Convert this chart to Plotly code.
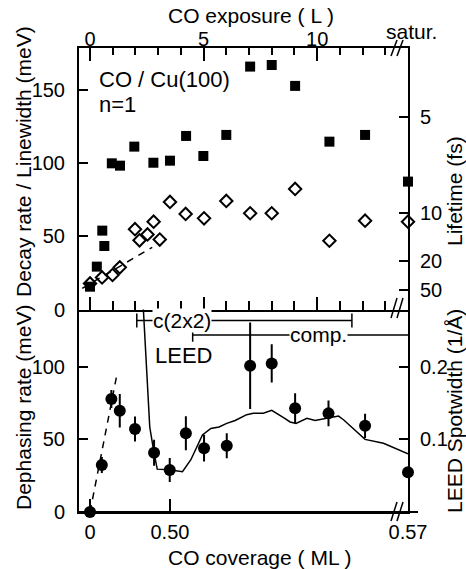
import plotly.graph_objects as go

HBAR_MEV_FS = 658.2  # hbar in meV*fs, converts linewidth to lifetime

# ---- top panel: n=1 image state on CO / Cu(100), versus CO exposure (L) ----
decay_exposure = [0.0, 0.30, 0.54, 0.63, 0.96, 1.32, 1.95, 2.79, 3.52, 4.23,
                  4.99, 6.00, 7.05, 8.00, 9.03, 10.54, 12.11, 14.0]
decay_rate = [15.6, 29.3, 53.9, 43.4, 99.9, 98.3, 111.3, 100.3, 101.7, 118.6,
              104.9, 119.3, 166.0, 167.1, 152.8, 114.7, 119.3, 87.4]

linewidth_exposure = [0.0, 0.53, 0.99, 1.31, 1.98, 2.18, 2.53, 2.80, 3.07, 3.52,
                      4.21, 5.02, 6.00, 7.05, 8.00, 9.03, 10.54, 12.11, 14.0]
linewidth = [17.8, 21.9, 23.6, 28.8, 54.9, 47.3, 51.3, 60.0, 47.8, 73.5,
             65.3, 62.3, 74.2, 65.8, 65.8, 82.4, 47.0, 60.7, 60.0]

linewidth_fit_exposure = [-0.34, 2.74]
linewidth_fit = [14.5, 42.5]

# ---- bottom panel: dephasing rate and LEED spot width ----
dephasing_exposure = [0.0, 0.52, 0.94, 1.31, 1.98, 2.82, 3.51, 4.22, 5.02, 6.02,
                      7.05, 8.00, 9.03, 10.50, 12.11, 14.0]
dephasing_rate = [0.0, 32.3, 77.8, 69.7, 57.1, 40.8, 28.9, 54.2, 43.9, 45.6,
                  100.7, 102.3, 71.4, 67.9, 59.3, 27.3]
dephasing_err = [0.0, 5.5, 6.2, 11.5, 8.6, 8.9, 8.3, 11.7, 9.2, 8.6,
                 29.8, 13.1, 10.3, 8.9, 8.3, 0.0]

dephasing_fit_exposure = [0.0, 1.2]
dephasing_fit = [0.0, 95.9]

leed_exposure = [2.33, 2.45, 2.56, 2.63, 2.82, 2.96, 3.48, 4.07, 4.44, 4.73,
                 4.95, 5.32, 5.68, 6.02, 6.39, 6.90, 7.19, 7.63, 8.00, 8.52,
                 8.81, 9.07, 9.55, 9.91, 10.43, 10.94, 11.16, 12.11, 12.92, 14.0]
leed_spotwidth = [0.290, 0.223, 0.154, 0.117, 0.081, 0.059, 0.058, 0.0555, 0.072, 0.092,
                  0.106, 0.115, 0.117, 0.122, 0.126, 0.134, 0.136, 0.136, 0.140, 0.130,
                  0.124, 0.122, 0.129, 0.126, 0.129, 0.132, 0.127, 0.100, 0.0946, 0.080]

# ---- axis ticks ----
exposure_ticks = [0, 5, 10]
decay_ticks = [0, 50, 100, 150]
lifetime_ticks = [5, 10, 20, 50]
dephasing_ticks = [0, 50, 100]
spotwidth_ticks = [0.1, 0.2]
coverage_tick_exposure = [0.0, 3.52, 14.0]
coverage_tick_labels = ["0", "0.50", "0.57"]

# phase brackets (exposure range, height in meV)
c2x2_range = [2.06, 11.53]
c2x2_level = 131.8
comp_range = [4.52, 14.0]
comp_level = 121.9

X_RANGE = [-0.485, 14.0]
TOP_MAX = 178.7
BOT_MAX = 139.4
MEV_PER_SPOTWIDTH = 500.0
SPLIT = 0.4364

FONT = "Liberation Sans, Arial, Helvetica, sans-serif"
TICK_FONT = dict(family=FONT, size=20, color="black")

fig = go.Figure()

# dashed guide on the base (x, y) pair, diamonds on the lifetime axis pair,
# squares on the top exposure axis pair: every axis carries a trace
fig.add_trace(go.Scatter(
    x=linewidth_fit_exposure, y=linewidth_fit, mode="lines",
    line=dict(color="black", width=1.5, dash="7px,6px"),
    xaxis="x", yaxis="y", hoverinfo="skip"))
fig.add_trace(go.Scatter(
    x=linewidth_exposure, y=linewidth, mode="markers",
    marker=dict(symbol="diamond-open", size=9.5, color="black",
                line=dict(color="black", width=2)),
    xaxis="x", yaxis="y3", cliponaxis=False, name="linewidth"))
fig.add_trace(go.Scatter(
    x=decay_exposure, y=decay_rate, mode="markers",
    marker=dict(symbol="square", size=10, color="black"),
    xaxis="x3", yaxis="y", cliponaxis=False, name="decay rate"))

fig.add_trace(go.Scatter(
    x=leed_exposure, y=leed_spotwidth, mode="lines",
    line=dict(color="black", width=1.5),
    xaxis="x2", yaxis="y4", name="LEED spot width"))
fig.add_trace(go.Scatter(
    x=dephasing_fit_exposure, y=dephasing_fit, mode="lines",
    line=dict(color="black", width=1.5, dash="7px,6px"),
    xaxis="x2", yaxis="y2", hoverinfo="skip"))
fig.add_trace(go.Scatter(
    x=dephasing_exposure, y=dephasing_rate, mode="markers",
    marker=dict(symbol="circle", size=12, color="black"),
    error_y=dict(type="data", array=dephasing_err, visible=True,
                 color="black", thickness=2, width=0),
    xaxis="x2", yaxis="y2", cliponaxis=False, name="dephasing rate"))

axis_common = dict(showline=True, linecolor="black", linewidth=2, ticks="inside",
                   tickcolor="black", tickwidth=1.5, showgrid=False, zeroline=False,
                   tickfont=TICK_FONT, fixedrange=True)

fig.update_layout(
    width=466, height=569,
    margin=dict(l=79, r=58, t=48, b=57),
    paper_bgcolor="white", plot_bgcolor="white",
    showlegend=False,
    font=dict(family=FONT, size=20, color="black"),
    xaxis=dict(axis_common, domain=[0, 1], anchor="y", range=X_RANGE,
               tickmode="array", tickvals=exposure_ticks, ticklen=13,
               showticklabels=False,
               minor=dict(dtick=1, tick0=0, ticks="inside", ticklen=9,
                          tickwidth=1.5, tickcolor="black", showgrid=False)),
    xaxis3=dict(axis_common, overlaying="x", anchor="y", side="top", range=X_RANGE,
                tickmode="array", tickvals=exposure_ticks,
                ticktext=[str(v) for v in exposure_ticks], ticklen=13,
                ticklabelstandoff=-8,
                minor=dict(dtick=1, tick0=0, ticks="inside", ticklen=7,
                           tickwidth=1.5, tickcolor="black", showgrid=False)),
    yaxis=dict(axis_common, domain=[SPLIT, 1], anchor="x", range=[0, TOP_MAX],
               tickmode="array", tickvals=decay_ticks, ticklen=9,
               ticklabelstandoff=8),
    yaxis3=dict(axis_common, overlaying="y", anchor="x", side="right",
                range=[0, TOP_MAX], tickmode="array",
                tickvals=[HBAR_MEV_FS / t for t in lifetime_ticks],
                ticktext=[str(t) for t in lifetime_ticks], ticklen=9,
                ticklabelstandoff=6),
    xaxis2=dict(axis_common, domain=[0, 1], anchor="y2", range=X_RANGE,
                tickmode="array", tickvals=coverage_tick_exposure,
                ticktext=coverage_tick_labels, ticklen=13,
                ticklabelstandoff=1),
    yaxis2=dict(axis_common, domain=[0, SPLIT], anchor="x2", range=[0, BOT_MAX],
                tickmode="array", tickvals=dephasing_ticks, ticklen=9,
                ticklabelstandoff=8),
    yaxis4=dict(axis_common, overlaying="y2", anchor="x2", side="right",
                range=[0, BOT_MAX / MEV_PER_SPOTWIDTH], tickmode="array",
                tickvals=spotwidth_ticks, ticktext=[str(v) for v in spotwidth_ticks],
                ticklen=9, ticklabelstandoff=6),
)


def px(x):
    return (x - 79) / 329


def py(y):
    return (512 - y) / 464


TITLE_FONT = dict(family=FONT, size=21, color="black")
annotations = [
    dict(text="CO exposure ( L )", x=px(251), y=py(15)),
    dict(text="satur.", x=px(411), y=py(31)),
    dict(text="CO coverage ( ML )", x=px(260), y=py(557)),
    dict(text="Decay rate / Linewidth (meV)", x=px(23), y=py(162), textangle=-90),
    dict(text="Dephasing rate (meV)", x=px(23), y=py(408), textangle=-90),
    dict(text="Lifetime (fs)", x=px(454), y=py(191), textangle=-90),
    dict(text="LEED Spotwidth (1/Å)", x=px(454), y=py(411), textangle=-90),
]
for a in annotations:
    fig.add_annotation(xref="paper", yref="paper", showarrow=False,
                       xanchor="center", yanchor="middle", font=TITLE_FONT, **a)

fig.add_annotation(text="CO / Cu(100)", x=0.295, y=157.5, xref="x", yref="y",
                   xanchor="left", yanchor="middle", showarrow=False,
                   font=dict(family=FONT, size=22, color="black"))
fig.add_annotation(text="n=1", x=0.295, y=140.4, xref="x", yref="y",
                   xanchor="left", yanchor="middle", showarrow=False,
                   font=dict(family=FONT, size=22, color="black"))

# phase brackets in the bottom panel
line_style = dict(color="black", width=1.5)
fig.add_shape(type="line", xref="x2", yref="y2", x0=c2x2_range[0], x1=c2x2_range[1],
              y0=c2x2_level, y1=c2x2_level, line=line_style)
for xe in c2x2_range:
    fig.add_shape(type="line", xref="x2", yref="y2", x0=xe, x1=xe,
                  y0=c2x2_level - 4.8, y1=c2x2_level + 4.8, line=line_style)
fig.add_shape(type="line", xref="x2", yref="y2", x0=comp_range[0], x1=comp_range[1],
              y0=comp_level, y1=comp_level, line=line_style)
fig.add_shape(type="line", xref="x2", yref="y2", x0=comp_range[0], x1=comp_range[0],
              y0=comp_level - 4.7, y1=comp_level + 4.7, line=line_style)

bracket_font = dict(family=FONT, size=21, color="black")
fig.add_annotation(text="c(2x2)", x=4.04, y=c2x2_level, xref="x2", yref="y2",
                   showarrow=False, bgcolor="white", borderpad=0, font=bracket_font)
fig.add_annotation(text="comp.", x=10.08, y=comp_level, xref="x2", yref="y2",
                   showarrow=False, bgcolor="white", borderpad=0, font=bracket_font)
fig.add_annotation(text="LEED", x=4.10, y=107.4, xref="x2", yref="y2",
                   showarrow=False, font=dict(family=FONT, size=22, color="black"))

# axis break marks and the extended bottom axis line
break_style = dict(color="black", width=1.5)
for (yb, yt) in [(56, 40), (318, 298), (521, 502)]:
    for x0 in (391, 397):
        fig.add_shape(type="line", xref="paper", yref="paper",
                      x0=px(x0), x1=px(x0 + 6), y0=py(yb), y1=py(yt), line=break_style)
fig.add_shape(type="line", xref="paper", yref="paper", x0=0, x1=px(418),
              y0=0, y1=0, line=dict(color="black", width=2))

fig.write_html("out.html")
